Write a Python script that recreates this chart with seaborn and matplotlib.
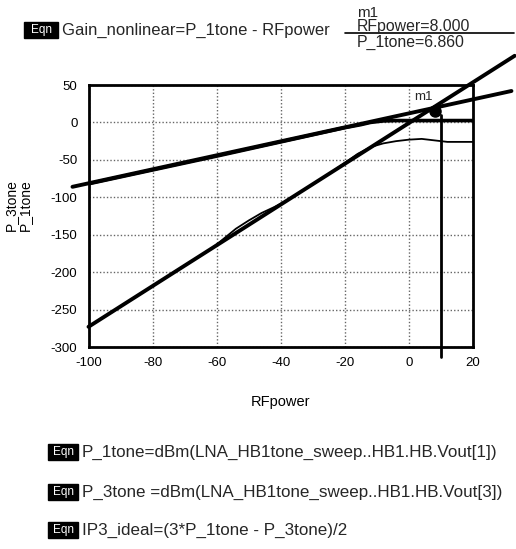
import matplotlib
matplotlib.use("Agg")
import matplotlib.pyplot as plt
import seaborn as sns
import pandas as pd
from matplotlib.patches import Rectangle

# ---------------- data ----------------
# linear extrapolation of the fundamental (slope ~1)
p1_ext_x = [-105, 32]
p1_ext_y = [-86, 42]
# linear extrapolation of the 3rd-order product (slope ~3)
p3_ext_x = [-100, 33]
p3_ext_y = [-273, 89]
# simulated P_1tone (compresses near 0 dBm)
p1_x = [-100, -60, -20, -15, -12, -8, -4, 0, 5, 10, 15, 20]
p1_y = [-82, -45, -7, -3, 0, 2, 2.5, 2.5, 2.5, 2.5, 2.5, 2.5]
# simulated P_3tone
p3_x = [-100, -90, -80, -70, -62, -58, -54, -50, -46, -42, -38, -30, -24,
        -20, -16, -12, -8, -4, 0, 4, 8, 12, 16, 20]
p3_y = [-273, -246, -219, -191, -170, -156, -142, -131, -121, -113, -104,
        -83, -66, -54, -42, -33, -28, -25, -23, -22, -24, -26, -26, -26]
# marker m1
marker_x = [8]
marker_y = [15]
vline_x = [10, 10]
vline_y = [-313, 10]

xticks = [-100, -80, -60, -40, -20, 0, 20]
xminor = [-90, -70, -50, -30, -10, 10]
yticks = [-300, -250, -200, -150, -100, -50, 0, 50]
xlim = (-100, 20)
ylim = (-300, 50)

title_eqn = "Gain_nonlinear=P_1tone - RFpower"
marker_lines = ["m1", "RFpower=8.000", "P_1tone=6.860"]
bottom_eqns = ["P_1tone=dBm(LNA_HB1tone_sweep..HB1.HB.Vout[1])",
               "P_3tone =dBm(LNA_HB1tone_sweep..HB1.HB.Vout[3])",
               "IP3_ideal=(3*P_1tone - P_3tone)/2"]
xlabel = "RFpower"
ylabel = "P_3tone\nP_1tone"

# ---------------- figure ----------------
sns.set_theme(style="white")
plt.rcParams['font.family'] = ['Liberation Sans', 'DejaVu Sans']
plt.rcParams['axes.unicode_minus'] = False

W, H = 516, 549
fig = plt.figure(figsize=(W / 100, H / 100), dpi=100)
fig.patch.set_facecolor('white')
ax = fig.add_axes([88.5 / W, 1 - 347 / H, (473 - 88.5) / W, (347 - 85) / H])

df_ext1 = pd.DataFrame({"x": p1_ext_x, "y": p1_ext_y})
df_ext3 = pd.DataFrame({"x": p3_ext_x, "y": p3_ext_y})
df_p1 = pd.DataFrame({"x": p1_x, "y": p1_y})
df_p3 = pd.DataFrame({"x": p3_x, "y": p3_y})

n0 = len(ax.lines)
sns.lineplot(data=df_ext1, x="x", y="y", ax=ax, color="black", lw=2.8,
             sort=False, estimator=None)
sns.lineplot(data=df_ext3, x="x", y="y", ax=ax, color="black", lw=2.8,
             sort=False, estimator=None)
for ln in ax.lines[n0:]:
    ln.set_clip_on(False)
sns.lineplot(data=df_p1, x="x", y="y", ax=ax, color="black", lw=2.6,
             sort=False, estimator=None)
sns.lineplot(data=df_p3, x="x", y="y", ax=ax, color="black", lw=1.3,
             sort=False, estimator=None)
ax.plot(vline_x, vline_y, color="black", lw=2.0, clip_on=False)
ax.plot(marker_x, marker_y, 'o', color='black', ms=8, clip_on=False)
ax.annotate(marker_lines[0], (marker_x[0], marker_y[0]), xytext=(-8, 6),
            textcoords='offset points', fontsize=9.5, ha='center', va='bottom')

ax.set_xlim(*xlim)
ax.set_ylim(*ylim)
ax.set_xticks(xticks)
ax.set_xticks(xminor, minor=True)
ax.set_yticks(yticks)
ax.set_xticklabels([str(v) for v in xticks])
ax.set_yticklabels([str(v) for v in yticks])
ax.tick_params(axis='both', which='both', direction='out', length=5,
               width=1.8, color='black', labelsize=9.5, labelcolor='black')
ax.tick_params(axis='y', pad=3)
ax.tick_params(axis='x', pad=2)
ax.grid(True, which='major', linestyle=(0, (1, 1.5)), color='#666666', lw=1.0)
for sp in ax.spines.values():
    sp.set_visible(True)
    sp.set_color('black')
    sp.set_linewidth(2.0)

ax.set_xlabel(xlabel, fontsize=10.5, color='black')
ax.set_ylabel(ylabel, fontsize=10, color='black', linespacing=1.0)
ax.xaxis.set_label_coords(0.5, (347 - 402) / 262)
ax.xaxis.label.set_va('center')
ax.yaxis.set_label_coords((18 - 88.5) / 384.5, (347 - 205) / 262)
ax.yaxis.label.set_va('center')


def fx(px):
    return px / W


def fy(py):
    return 1 - py / H


def eqn_box(x0, x1, yc, h=16):
    fig.patches.append(Rectangle((fx(x0), fy(yc + h / 2)), (x1 - x0) / W, h / H,
                                 transform=fig.transFigure, color='black'))
    fig.text(fx((x0 + x1) / 2), fy(yc), "Eqn", color='white', fontsize=8.5,
             ha='center', va='center')


def fit(t, target):
    fig.canvas.draw()
    w = t.get_window_extent(fig.canvas.get_renderer()).width
    t.set_fontsize(t.get_fontsize() * target / w)


# top equation
eqn_box(24, 58, 30)
t = fig.text(fx(62), fy(30), title_eqn, fontsize=11, ha='left', va='center')
fit(t, 328 - 62)

# marker readout
fig.text(fx(357), fy(13), marker_lines[0], fontsize=11, ha='left', va='center')
t2 = fig.text(fx(357), fy(26), marker_lines[1], fontsize=11, ha='left', va='center')
fit(t2, 470 - 357)
fig.lines.append(plt.Line2D([fx(345), fx(514)], [fy(33), fy(33)],
                            transform=fig.transFigure, color='black', lw=1.2))
t3 = fig.text(fx(357), fy(42), marker_lines[2], fontsize=t2.get_fontsize(),
              ha='left', va='center')

# bottom equations
ys = [452, 492, 530]
fs_b = None
for i, (txt, yc) in enumerate(zip(bottom_eqns, ys)):
    eqn_box(48, 78, yc)
    tb = fig.text(fx(82), fy(yc), txt, fontsize=12 if fs_b is None else fs_b,
                  ha='left', va='center')
    if fs_b is None:
        fit(tb, 498 - 82)
        fs_b = tb.get_fontsize()

fig.savefig("out.png", dpi=100, facecolor='white')
